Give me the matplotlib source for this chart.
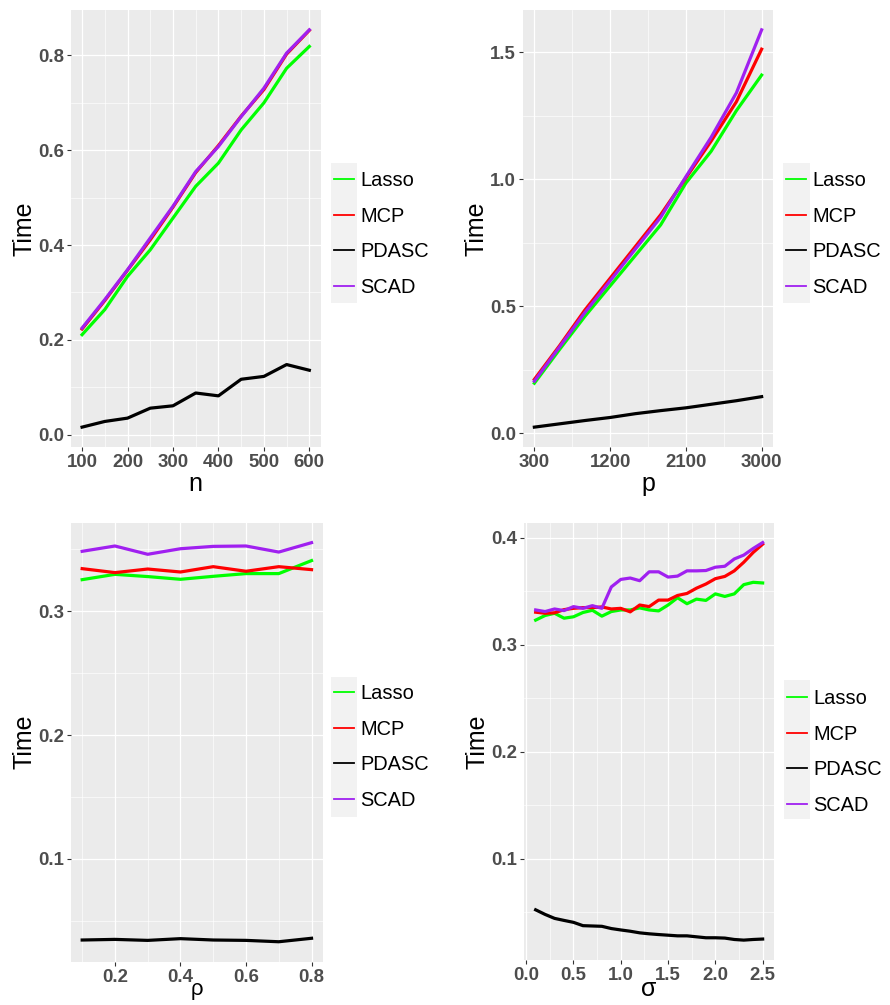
import matplotlib
matplotlib.use("Agg")
import matplotlib.pyplot as plt
import matplotlib.ticker as ticker
from matplotlib.lines import Line2D
from matplotlib.patches import Rectangle

plt.rcParams['font.family'] = ['Liberation Sans', 'DejaVu Sans']

methods = ["Lasso", "MCP", "PDASC", "SCAD"]
colors = {"Lasso": "#00FF00", "MCP": "#FF0000", "PDASC": "#000000", "SCAD": "#A020F0"}

# panel 1: time vs n
n_vals = [100, 150, 200, 250, 300, 350, 400, 450, 500, 550, 600]
n_lasso = [0.211, 0.264, 0.334, 0.390, 0.457, 0.524, 0.573, 0.643, 0.700, 0.773, 0.819]
n_mcp = [0.223, 0.283, 0.347, 0.411, 0.480, 0.553, 0.610, 0.672, 0.728, 0.803, 0.853]
n_pdasc = [0.016, 0.028, 0.035, 0.056, 0.061, 0.088, 0.082, 0.117, 0.123, 0.148, 0.136]
n_scad = [0.225, 0.285, 0.348, 0.415, 0.482, 0.555, 0.608, 0.671, 0.731, 0.805, 0.854]

# panel 2: time vs p
p_vals = [300, 600, 900, 1200, 1500, 1800, 2100, 2400, 2700, 3000]
p_lasso = [0.197, 0.330, 0.460, 0.580, 0.700, 0.820, 0.985, 1.110, 1.270, 1.410]
p_mcp = [0.212, 0.345, 0.485, 0.610, 0.735, 0.860, 1.005, 1.150, 1.305, 1.512]
p_pdasc = [0.024, 0.037, 0.050, 0.062, 0.077, 0.089, 0.100, 0.114, 0.128, 0.144]
p_scad = [0.205, 0.340, 0.475, 0.600, 0.725, 0.850, 1.010, 1.165, 1.340, 1.588]

# panel 3: time vs rho
rho_vals = [0.1, 0.2, 0.3, 0.4, 0.5, 0.6, 0.7, 0.8]
rho_lasso = [0.3255, 0.3298, 0.3280, 0.3258, 0.3282, 0.3304, 0.3304, 0.3409]
rho_mcp = [0.3344, 0.3312, 0.3341, 0.3317, 0.3360, 0.3323, 0.3360, 0.3336]
rho_pdasc = [0.0344, 0.0349, 0.0341, 0.0355, 0.0344, 0.0341, 0.0330, 0.0358]
rho_scad = [0.3484, 0.3527, 0.3460, 0.3505, 0.3524, 0.3527, 0.3478, 0.3554]

# panel 4: time vs sigma
sigma_vals = [0.1, 0.2, 0.3, 0.4, 0.5, 0.6, 0.7, 0.8, 0.9, 1.0, 1.1, 1.2, 1.3,
              1.4, 1.5, 1.6, 1.7, 1.8, 1.9, 2.0, 2.1, 2.2, 2.3, 2.4, 2.5]
sigma_lasso = [0.3230, 0.3273, 0.3294, 0.3248, 0.3261, 0.3301, 0.3322, 0.3267, 0.3310,
               0.3325, 0.3325, 0.3344, 0.3325, 0.3316, 0.3371, 0.3439, 0.3383, 0.3426,
               0.3414, 0.3475, 0.3451, 0.3475, 0.3561, 0.3583, 0.3577]
sigma_mcp = [0.3304, 0.3294, 0.3298, 0.3328, 0.3340, 0.3347, 0.3347, 0.3353, 0.3334,
             0.3340, 0.3307, 0.3371, 0.3356, 0.3417, 0.3417, 0.3460, 0.3479, 0.3528,
             0.3567, 0.3617, 0.3638, 0.3690, 0.3770, 0.3862, 0.3939]
sigma_pdasc = [0.0525, 0.0482, 0.0445, 0.0426, 0.0408, 0.0377, 0.0374, 0.0371, 0.0350,
               0.0337, 0.0325, 0.0310, 0.0301, 0.0294, 0.0288, 0.0282, 0.0282, 0.0273,
               0.0264, 0.0264, 0.0261, 0.0248, 0.0242, 0.0248, 0.0252]
sigma_scad = [0.3325, 0.3310, 0.3334, 0.3319, 0.3356, 0.3340, 0.3365, 0.3340, 0.3540,
              0.3610, 0.3623, 0.3598, 0.3681, 0.3681, 0.3632, 0.3641, 0.3690, 0.3690,
              0.3693, 0.3724, 0.3733, 0.3801, 0.3837, 0.3899, 0.3954]

W, H = 890, 1005
fig = plt.figure(figsize=(W / 100, H / 100), dpi=100)


def px_box(x0, y0, x1, y1):
    return [x0 / W, 1 - y1 / H, (x1 - x0) / W, (y1 - y0) / H]


def panel(box, x, series, xlabel, xmajor, xminor, ymajor, yminor, xfmt, yfmt,
          leg_x, leg_yc, key_box, xl_size=18, xl_pad=-1.5):
    ax = fig.add_axes(px_box(*box))
    ax.set_facecolor("#EBEBEB")
    for s in ax.spines.values():
        s.set_visible(False)
    for name, vals in zip(methods, series):
        ax.plot(x, vals, color=colors[name], lw=2.3, solid_joinstyle="round")
    ax.margins(0.05)
    ax.xaxis.set_major_locator(ticker.FixedLocator(xmajor))
    ax.xaxis.set_minor_locator(ticker.FixedLocator(xminor))
    ax.yaxis.set_major_locator(ticker.FixedLocator(ymajor))
    ax.yaxis.set_minor_locator(ticker.FixedLocator(yminor))
    ax.xaxis.set_major_formatter(ticker.FormatStrFormatter(xfmt))
    ax.yaxis.set_major_formatter(ticker.FormatStrFormatter(yfmt))
    ax.grid(which="major", color="white", lw=0.9)
    ax.grid(which="minor", color="white", lw=0.45)
    ax.set_axisbelow(True)
    ax.tick_params(which="major", length=3, width=0.8, color="#333333", pad=2,
                   labelsize=13.4, labelcolor="#4D4D4D")
    ax.tick_params(which="minor", length=0)
    for lab in ax.get_xticklabels() + ax.get_yticklabels():
        lab.set_fontweight("bold")
    ax.set_ylabel("Time", fontsize=18, labelpad=1)
    ax.set_xlabel(xlabel, fontsize=xl_size, labelpad=xl_pad)

    kx0, ky0, kx1, ky1 = key_box
    fig.add_artist(Rectangle((kx0 / W, 1 - ky1 / H), (kx1 - kx0) / W, (ky1 - ky0) / H,
                             transform=fig.transFigure, facecolor="#F2F2F2",
                             edgecolor="none", zorder=1))
    handles = [Line2D([], [], color=colors[m], lw=1.3) for m in methods]
    fig.legend(handles, methods, loc="center left",
               bbox_to_anchor=(leg_x / W, 1 - leg_yc / H),
               frameon=False, fontsize=14.4, handlelength=1.0, handletextpad=0.33,
               labelspacing=0.82, borderpad=0, borderaxespad=0)
    return ax


panel((70.7, 10, 320.7, 447), n_vals, [n_lasso, n_mcp, n_pdasc, n_scad], "n",
      [100, 200, 300, 400, 500, 600], [150, 250, 350, 450, 550],
      [0.0, 0.2, 0.4, 0.6, 0.8], [0.1, 0.3, 0.5, 0.7], "%d", "%.1f",
      334, 234, (331, 163, 357, 303), xl_pad=1)

panel((523, 10, 773, 447), p_vals, [p_lasso, p_mcp, p_pdasc, p_scad], "p",
      [300, 1200, 2100, 3000], [750, 1650, 2550],
      [0.0, 0.5, 1.0, 1.5], [0.25, 0.75, 1.25], "%d", "%.1f",
      786, 234, (783, 163, 810, 303), xl_pad=1)

panel((70.7, 522.7, 323, 961.7), rho_vals, [rho_lasso, rho_mcp, rho_pdasc, rho_scad], "ρ",
      [0.2, 0.4, 0.6, 0.8], [0.1, 0.3, 0.5, 0.7],
      [0.1, 0.2, 0.3], [0.05, 0.15, 0.25, 0.35], "%.1f", "%.1f",
      334, 747, (331, 677, 357, 817), xl_size=16, xl_pad=-5)

panel((524.3, 522.7, 774, 960), sigma_vals, [sigma_lasso, sigma_mcp, sigma_pdasc, sigma_scad], "σ",
      [0.0, 0.5, 1.0, 1.5, 2.0, 2.5], [0.25, 0.75, 1.25, 1.75, 2.25],
      [0.1, 0.2, 0.3, 0.4], [0.05, 0.15, 0.25, 0.35], "%.1f", "%.1f",
      787, 752, (784, 680, 810, 819), xl_size=18, xl_pad=-5)

fig.savefig("out.png", dpi=100)
